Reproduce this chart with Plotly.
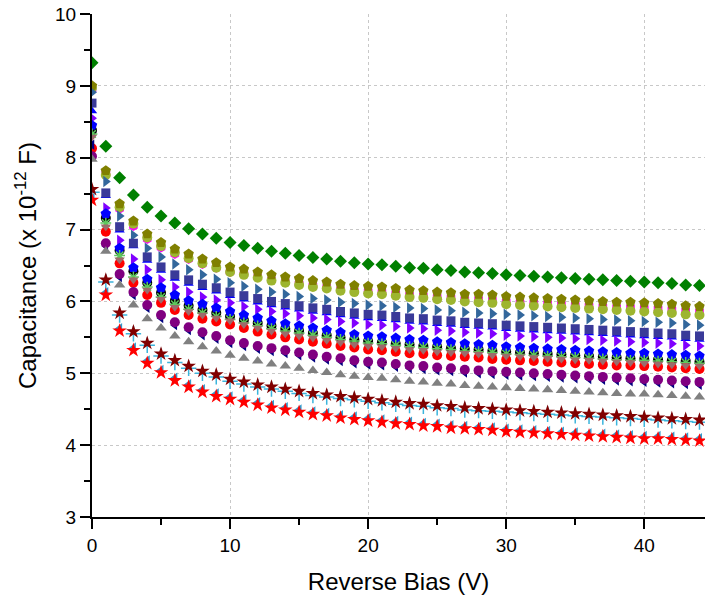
import plotly.graph_objects as go

bias_v = list(range(0, 45))

green_diamond = [9.32, 8.16, 7.72, 7.48, 7.31, 7.19, 7.09, 7.01, 6.94, 6.88, 6.82, 6.78, 6.74, 6.70, 6.67, 6.64, 6.61, 6.59, 6.56, 6.54, 6.52, 6.51, 6.49, 6.47, 6.46, 6.44, 6.43, 6.41, 6.40, 6.39, 6.37, 6.36, 6.35, 6.34, 6.33, 6.32, 6.31, 6.30, 6.29, 6.28, 6.27, 6.26, 6.25, 6.23, 6.22]
olive_pentagon = [9.00, 7.82, 7.36, 7.12, 6.94, 6.82, 6.73, 6.66, 6.59, 6.54, 6.48, 6.45, 6.41, 6.37, 6.34, 6.32, 6.29, 6.27, 6.24, 6.22, 6.21, 6.20, 6.18, 6.16, 6.15, 6.13, 6.12, 6.10, 6.10, 6.09, 6.07, 6.06, 6.05, 6.04, 6.03, 6.02, 6.01, 6.00, 5.99, 5.99, 5.98, 5.97, 5.96, 5.94, 5.93]
magenta_hexagon = [8.95, 7.78, 7.29, 7.05, 6.87, 6.75, 6.66, 6.59, 6.52, 6.47, 6.41, 6.38, 6.34, 6.30, 6.27, 6.25, 6.22, 6.20, 6.17, 6.15, 6.14, 6.13, 6.11, 6.09, 6.08, 6.06, 6.05, 6.03, 6.03, 6.02, 6.00, 5.99, 5.98, 5.97, 5.96, 5.95, 5.94, 5.93, 5.92, 5.92, 5.91, 5.90, 5.89, 5.87, 5.86]
yellowgreen_circle = [8.97, 7.76, 7.31, 7.08, 6.89, 6.77, 6.68, 6.60, 6.53, 6.47, 6.41, 6.37, 6.33, 6.29, 6.26, 6.23, 6.20, 6.18, 6.15, 6.13, 6.11, 6.10, 6.08, 6.06, 6.05, 6.03, 6.02, 6.00, 5.99, 5.98, 5.96, 5.95, 5.94, 5.93, 5.92, 5.91, 5.90, 5.89, 5.88, 5.87, 5.86, 5.85, 5.84, 5.82, 5.81]
steelblue_triangle = [8.91, 7.67, 7.19, 6.92, 6.74, 6.62, 6.52, 6.44, 6.37, 6.31, 6.26, 6.21, 6.17, 6.13, 6.10, 6.07, 6.04, 6.02, 5.99, 5.97, 5.95, 5.94, 5.92, 5.91, 5.90, 5.88, 5.87, 5.85, 5.84, 5.83, 5.82, 5.81, 5.80, 5.79, 5.78, 5.77, 5.76, 5.75, 5.74, 5.73, 5.72, 5.71, 5.70, 5.68, 5.67]
slate_square = [8.76, 7.51, 7.04, 6.81, 6.62, 6.48, 6.37, 6.30, 6.24, 6.19, 6.13, 6.08, 6.04, 6.00, 5.97, 5.94, 5.91, 5.89, 5.86, 5.84, 5.82, 5.81, 5.79, 5.77, 5.76, 5.74, 5.73, 5.71, 5.70, 5.69, 5.67, 5.66, 5.65, 5.64, 5.63, 5.62, 5.61, 5.60, 5.59, 5.58, 5.57, 5.56, 5.55, 5.53, 5.52]
blue_triangle = [8.65, 7.47, 6.99, 6.77, 6.57, 6.43, 6.32, 6.25, 6.19, 6.14, 6.08, 6.03, 5.99, 5.95, 5.92, 5.89, 5.86, 5.84, 5.81, 5.79, 5.77, 5.76, 5.74, 5.72, 5.71, 5.69, 5.68, 5.66, 5.65, 5.64, 5.62, 5.61, 5.60, 5.59, 5.58, 5.57, 5.56, 5.55, 5.54, 5.53, 5.52, 5.51, 5.50, 5.48, 5.47]
violet_triangle = [8.55, 7.30, 6.85, 6.59, 6.44, 6.30, 6.20, 6.13, 6.06, 6.02, 5.98, 5.93, 5.89, 5.86, 5.83, 5.80, 5.77, 5.75, 5.72, 5.70, 5.68, 5.67, 5.65, 5.63, 5.62, 5.60, 5.59, 5.57, 5.56, 5.55, 5.53, 5.52, 5.51, 5.50, 5.49, 5.48, 5.47, 5.46, 5.45, 5.44, 5.43, 5.42, 5.41, 5.39, 5.38]
blue_pentagon = [8.45, 7.22, 6.74, 6.47, 6.31, 6.19, 6.09, 6.01, 5.96, 5.91, 5.86, 5.81, 5.77, 5.73, 5.69, 5.66, 5.63, 5.60, 5.57, 5.54, 5.52, 5.51, 5.49, 5.47, 5.46, 5.44, 5.43, 5.41, 5.40, 5.39, 5.37, 5.36, 5.35, 5.34, 5.33, 5.32, 5.31, 5.30, 5.29, 5.28, 5.28, 5.27, 5.26, 5.25, 5.24]
black_circle = [8.38, 7.16, 6.71, 6.42, 6.26, 6.12, 6.01, 5.94, 5.88, 5.84, 5.79, 5.74, 5.70, 5.66, 5.62, 5.59, 5.56, 5.53, 5.50, 5.47, 5.45, 5.43, 5.41, 5.40, 5.38, 5.37, 5.35, 5.34, 5.33, 5.31, 5.30, 5.29, 5.28, 5.27, 5.26, 5.25, 5.24, 5.23, 5.22, 5.21, 5.20, 5.19, 5.18, 5.17, 5.16]
lightgreen_asterisk = [8.33, 7.09, 6.64, 6.34, 6.20, 6.06, 5.96, 5.89, 5.84, 5.79, 5.75, 5.70, 5.66, 5.62, 5.59, 5.56, 5.53, 5.50, 5.47, 5.45, 5.42, 5.41, 5.39, 5.37, 5.36, 5.34, 5.33, 5.31, 5.30, 5.29, 5.27, 5.26, 5.25, 5.24, 5.23, 5.22, 5.21, 5.20, 5.19, 5.18, 5.18, 5.17, 5.16, 5.15, 5.14]
brown_down_triangle = [8.29, 7.04, 6.58, 6.30, 6.16, 6.03, 5.92, 5.86, 5.81, 5.77, 5.73, 5.68, 5.63, 5.59, 5.55, 5.52, 5.49, 5.46, 5.43, 5.40, 5.38, 5.37, 5.35, 5.33, 5.32, 5.30, 5.29, 5.28, 5.27, 5.25, 5.24, 5.23, 5.22, 5.21, 5.20, 5.19, 5.18, 5.17, 5.16, 5.15, 5.14, 5.13, 5.12, 5.11, 5.10]
red_circle = [8.13, 6.97, 6.53, 6.26, 6.09, 5.98, 5.88, 5.81, 5.76, 5.72, 5.68, 5.63, 5.58, 5.54, 5.50, 5.47, 5.44, 5.41, 5.38, 5.36, 5.33, 5.32, 5.30, 5.28, 5.27, 5.25, 5.24, 5.23, 5.22, 5.20, 5.19, 5.18, 5.17, 5.16, 5.15, 5.14, 5.13, 5.12, 5.11, 5.11, 5.10, 5.09, 5.08, 5.07, 5.06]
purple_circle = [8.02, 6.81, 6.38, 6.13, 5.95, 5.81, 5.71, 5.64, 5.57, 5.52, 5.46, 5.42, 5.38, 5.35, 5.32, 5.29, 5.26, 5.23, 5.21, 5.18, 5.16, 5.15, 5.13, 5.11, 5.10, 5.08, 5.07, 5.05, 5.04, 5.03, 5.02, 5.01, 5.00, 4.99, 4.98, 4.97, 4.96, 4.95, 4.94, 4.93, 4.92, 4.91, 4.90, 4.89, 4.88]
navy_left_triangle = [8.18, 6.77, 6.34, 6.09, 5.91, 5.77, 5.67, 5.60, 5.53, 5.48, 5.42, 5.38, 5.34, 5.31, 5.28, 5.25, 5.22, 5.19, 5.17, 5.14, 5.12, 5.11, 5.09, 5.07, 5.06, 5.04, 5.03, 5.01, 5.00, 4.99, 4.98, 4.97, 4.96, 4.95, 4.94, 4.93, 4.92, 4.91, 4.90, 4.89, 4.88, 4.87, 4.86, 4.85, 4.84]
gray_triangle = [7.98, 6.70, 6.23, 5.95, 5.76, 5.63, 5.52, 5.44, 5.37, 5.31, 5.25, 5.21, 5.17, 5.13, 5.10, 5.07, 5.04, 5.01, 4.98, 4.96, 4.94, 4.93, 4.91, 4.89, 4.88, 4.86, 4.85, 4.83, 4.82, 4.81, 4.80, 4.79, 4.78, 4.77, 4.76, 4.75, 4.74, 4.73, 4.72, 4.71, 4.71, 4.70, 4.69, 4.68, 4.67]
darkred_star = [7.56, 6.30, 5.84, 5.58, 5.42, 5.27, 5.18, 5.10, 5.03, 4.98, 4.92, 4.88, 4.84, 4.81, 4.78, 4.75, 4.72, 4.70, 4.68, 4.66, 4.64, 4.62, 4.60, 4.58, 4.57, 4.55, 4.54, 4.52, 4.51, 4.50, 4.49, 4.48, 4.47, 4.46, 4.45, 4.44, 4.43, 4.42, 4.41, 4.40, 4.39, 4.38, 4.37, 4.36, 4.35]
cyan_cross = [7.52, 6.27, 5.81, 5.55, 5.39, 5.24, 5.15, 5.07, 5.00, 4.95, 4.89, 4.85, 4.81, 4.78, 4.75, 4.72, 4.69, 4.67, 4.65, 4.63, 4.61, 4.59, 4.57, 4.55, 4.54, 4.52, 4.51, 4.49, 4.48, 4.47, 4.46, 4.45, 4.44, 4.43, 4.42, 4.41, 4.40, 4.39, 4.38, 4.37, 4.36, 4.35, 4.34, 4.33, 4.32]
lightblue_left_triangle = [7.43, 6.12, 5.62, 5.35, 5.17, 5.04, 4.93, 4.84, 4.77, 4.71, 4.67, 4.63, 4.59, 4.55, 4.52, 4.49, 4.46, 4.44, 4.41, 4.39, 4.37, 4.35, 4.33, 4.32, 4.30, 4.29, 4.27, 4.26, 4.25, 4.24, 4.22, 4.21, 4.20, 4.19, 4.18, 4.17, 4.16, 4.15, 4.14, 4.13, 4.12, 4.12, 4.11, 4.10, 4.09]
red_star = [7.41, 6.09, 5.59, 5.32, 5.14, 5.01, 4.90, 4.81, 4.74, 4.68, 4.64, 4.60, 4.56, 4.52, 4.49, 4.46, 4.43, 4.41, 4.38, 4.36, 4.34, 4.32, 4.30, 4.29, 4.27, 4.26, 4.24, 4.23, 4.22, 4.21, 4.19, 4.18, 4.17, 4.16, 4.15, 4.14, 4.13, 4.12, 4.11, 4.10, 4.09, 4.09, 4.08, 4.07, 4.06]

x_ticks = [0, 10, 20, 30, 40]
y_ticks = [3, 4, 5, 6, 7, 8, 9, 10]

# (values, colour, symbol, size, open-line width) in drawing order (bottom first)
series = [
    (magenta_hexagon, "#FF00FF", "hexagon", 10, 0),
    (yellowgreen_circle, "#9DB52F", "circle", 10, 0),
    (olive_pentagon, "#808000", "pentagon", 11, 0),
    (green_diamond, "#008000", "diamond", 10, 0),
    (steelblue_triangle, "#33679C", "triangle-right", 10, 0),
    (blue_triangle, "#0000FF", "triangle-up", 9, 0),
    (slate_square, "#3A3A99", "square", 9, 0),
    (violet_triangle, "#8000FF", "triangle-right", 10, 0),
    (black_circle, "#000000", "circle", 10, 0),
    (blue_pentagon, "#0000FF", "pentagon", 11, 0),
    (lightgreen_asterisk, "#5DC85D", "asterisk-open", 9, 1.5),
    (red_circle, "#FF0000", "circle", 10, 0),
    (brown_down_triangle, "#9C6B6B", "triangle-down", 9, 0),
    (navy_left_triangle, "#000080", "triangle-left", 9, 0),
    (purple_circle, "#800080", "circle", 10, 0),
    (gray_triangle, "#808080", "triangle-up", 10, 0),
    (cyan_cross, "#3CB4DC", "cross-thin-open", 11, 1.5),
    (darkred_star, "#800000", "star", 11, 0),
    (lightblue_left_triangle, "#3399CC", "triangle-left", 10, 0),
    (red_star, "#FF0000", "star", 11, 0),
]

fig = go.Figure()
for vals, col, sym, sz, lw in series:
    if lw > 0:
        marker = dict(symbol=sym, size=sz, color=col, line=dict(color=col, width=lw))
    else:
        marker = dict(symbol=sym, size=sz, color=col, line=dict(width=0))
    fig.add_trace(go.Scatter(x=bias_v, y=vals, mode="markers", marker=marker,
                             showlegend=False, hoverinfo="skip"))

font_family = "Liberation Sans, Arial, sans-serif"
axis_common = dict(
    showline=True, linewidth=2, linecolor="black",
    ticks="outside", tickwidth=2, tickcolor="black", ticklen=10,
    showgrid=True, gridcolor="#C8C8C8", gridwidth=1, griddash="dot",
    zeroline=False,
    tickfont=dict(family=font_family, size=19, color="black"),
)

fig.update_layout(
    width=705, height=600,
    margin=dict(l=92, r=0, t=14, b=83),
    paper_bgcolor="white", plot_bgcolor="white",
    font=dict(family=font_family, color="black"),
    xaxis=dict(
        range=[0, 44.4], tickvals=x_ticks,
        minor=dict(ticks="outside", dtick=5, tick0=0, ticklen=6, tickwidth=2,
                   tickcolor="black", showgrid=False),
        title=dict(text="Reverse Bias (V)", font=dict(family=font_family, size=24),
                   standoff=18),
        **axis_common,
    ),
    xaxis2=dict(
        range=[0, 44.4], overlaying="x", side="top", anchor="y",
        showline=True, linewidth=2, linecolor="black",
        ticks="inside", ticklen=6, tickwidth=2, tickcolor="black",
        tickvals=x_ticks, showticklabels=False, showgrid=False, zeroline=False,
        minor=dict(ticks="inside", dtick=5, tick0=0, ticklen=4, tickwidth=2,
                   tickcolor="black", showgrid=False),
    ),
    yaxis=dict(
        range=[3, 10], tickvals=y_ticks,
        minor=dict(ticks="outside", dtick=0.5, tick0=3, ticklen=6, tickwidth=2,
                   tickcolor="black", showgrid=False),
        title=dict(text="Capacitance (x 10<sup>-12</sup> F)",
                   font=dict(family=font_family, size=24), standoff=12),
        **axis_common,
    ),
)

fig.write_html("out.html")
